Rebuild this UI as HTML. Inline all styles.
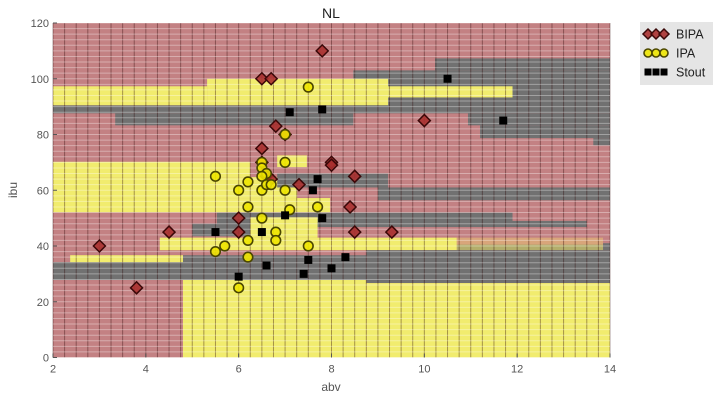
<!DOCTYPE html>
<html><head><meta charset="utf-8"><style>
html,body{margin:0;padding:0;background:#fff;}
svg{display:block;font-family:"Liberation Sans",sans-serif;}
</style></head><body>
<svg id="chart" width="720" height="401" viewBox="0 0 720 401" xmlns="http://www.w3.org/2000/svg">
<g id="regions"></g>
<g id="grid"></g>
<g id="axes"></g>
<g id="points"></g>
<text x="331" y="18" text-anchor="middle" font-size="14" fill="#222">NL</text>
<text x="331" y="391" text-anchor="middle" font-size="12" fill="#555">abv</text>
<text x="17" y="190" text-anchor="middle" font-size="12" fill="#555" transform="rotate(-90 17 190)">ibu</text>
<g id="legend"></g>
</svg>
<script>
const xTicks=[2,4,6,8,10,12,14];
const yTicks=[0,20,40,60,80,100,120];
const bipaAbv=[7.8,6.5,6.7,6.8,7.0,10.0,6.5,6.5,6.6,6.7,8.0,8.0,8.5,7.3,8.4,6.0,6.0,4.5,3.0,8.5,9.3,3.8];
const bipaIbu=[110,100,100,83,80,85,75,70,65,64,70,69,65,62,54,50,45,45,40,45,45,25];
const ipaAbv=[7.5,7.0,7.0,6.5,6.5,6.6,6.5,5.5,6.2,6.0,6.5,7.0,6.6,6.7,6.2,7.1,7.7,6.5,6.8,6.8,6.2,5.7,5.5,6.2,7.5,6.0];
const ipaIbu=[97,80,70,70,68,66,65,65,63,60,60,60,62,62,54,53,54,50,45,42,42,40,38,36,40,25];
const stoutAbv=[7.1,7.8,7.7,7.6,10.5,11.7,7.0,7.8,5.5,6.5,7.5,6.6,8.3,7.4,8.0,6.0];
const stoutIbu=[88,89,64,60,100,85,51,50,45,45,35,33,36,30,32,29];
// decision regions: [abv0, abv1, ibu0, ibu1, class]
const regionList=[
 [2,8.47,87.6,90.5,'G'],[3.34,8.47,83.3,87.6,'G'],[8.47,14,87.6,103,'G'],[10.23,14,103,107.3,'G'],
 [10.94,14,83.3,87.6,'G'],[11.2,14,78.7,83.3,'G'],[13.64,14,76.1,78.7,'G'],
 [2,5.32,90.5,97.3,'Y'],[5.32,9.22,90.5,100,'Y'],[9.22,11.9,93.3,97.3,'Y'],
 [6.83,7.47,68.3,72.5,'Y'],[2,6.25,64.7,70.2,'Y'],[2,7.26,57.2,64.7,'Y'],[2,7.97,52.1,57.2,'Y'],
 [6.83,9.22,61,66,'G'],[9.0,14,56.4,61,'G'],[5.53,11.9,46.8,52,'G'],[11.9,13.5,46.8,49,'G'],[5.0,6.4,43.5,48,'G'],
 [6.25,7.7,43,50.3,'Y'],[4.3,10.7,38.5,43,'Y'],[10.7,13.85,40.5,43,'O'],[10.7,13.85,38.5,40.5,'L'],
 [2.37,4.8,33.2,36.7,'Y'],[2,14,27.8,34.2,'G'],[4.8,8.75,27.8,36.7,'G'],[8.75,14,26.7,38.5,'G'],[13.85,14,38.5,41,'G'],
 [4.8,8.75,0,27.8,'Y'],[8.75,14,0,26.7,'Y']
];
const colors={R:'#c38183',Y:'#f1ec6e',G:'#717171',O:'#d8a57a',L:'#b3ad6b'};
const X0=53,X1=610,Y0=357.5,Y1=23;
const sx=v=>X0+(v-2)/12*(X1-X0);
const sy=v=>Y0-v/120*(Y0-Y1);
const NS='http://www.w3.org/2000/svg';
function mk(tag,attrs,parent){const e=document.createElementNS(NS,tag);for(const k in attrs)e.setAttribute(k,attrs[k]);parent.appendChild(e);return e;}
const reg=document.getElementById('regions');
let bg=mk('rect',{x:X0,y:Y1,width:X1-X0,height:Y0-Y1,fill:colors.R},reg);


regionList.forEach(r=>{
 const e=mk('rect',{x:sx(r[0]),y:sy(r[3]),width:sx(r[1])-sx(r[0]),height:sy(r[2])-sy(r[3]),fill:colors[r[4]]},reg);
 
 
});
const grid=document.getElementById('grid');
for(let v=2;v<=14.001;v+=0.25){
 const l=mk('line',{x1:sx(v),x2:sx(v),y1:Y1,y2:Y0,stroke:'rgba(40,0,0,0.38)','stroke-width':1},grid);
 
 
}
for(let v=0;v<=120;v+=2){
 const l=mk('line',{x1:X0,x2:X1,y1:sy(v),y2:sy(v),stroke:'rgba(255,255,255,0.35)','stroke-width':1},grid);
 
 
}
const ax=document.getElementById('axes');
xTicks.forEach(t=>{
 const tk=mk('line',{x1:sx(t),x2:sx(t),y1:Y0,y2:Y0-4,stroke:'#555'},ax);
 
 
 const tx=mk('text',{x:sx(t),y:Y0+15,'text-anchor':'middle','font-size':11,fill:'#555'},ax);
 tx.textContent=t;
 
 
});
yTicks.forEach(t=>{
 const tk=mk('line',{x1:X0,x2:X0+4,y1:sy(t),y2:sy(t),stroke:'#555'},ax);
 
 
 const tx=mk('text',{x:X0-4,y:sy(t)+4,'text-anchor':'end','font-size':11,fill:'#555'},ax);
 tx.textContent=t;
 
 
});
const pts=document.getElementById('points');
function diamond(cx,cy,p){const s=6;return mk('polygon',{points:`${cx},${cy-s} ${cx+s},${cy} ${cx},${cy+s} ${cx-s},${cy}`,fill:'#a8302f',stroke:'#3a0808','stroke-width':1.5,'fill-opacity':0.9},p);}
function circ(cx,cy,p){return mk('circle',{cx:cx,cy:cy,r:4.8,fill:'#eee600',stroke:'#4a4600','stroke-width':1.6,'fill-opacity':0.9},p);}
function sq(cx,cy,p){return mk('rect',{x:cx-3.5,y:cy-3.5,width:7,height:7,fill:'#000',stroke:'#000','stroke-width':1},p);}
bipaAbv.forEach((a,i)=>{const e=diamond(sx(a),sy(bipaIbu[i]),pts);
 
 });
ipaAbv.forEach((a,i)=>{const e=circ(sx(a),sy(ipaIbu[i]),pts);
 
 });
stoutAbv.forEach((a,i)=>{const e=sq(sx(a),sy(stoutIbu[i]),pts);
 
 });
const lg=document.getElementById('legend');
const lb=mk('rect',{x:640,y:22,width:73,height:63,fill:'#e5e5e5'},lg);


const legendLabels=['BIPA','IPA','Stout'];
const fns=[diamond,circ,sq];
legendLabels.forEach((lab,i)=>{
 const cy=34+i*19;
 const g=mk('g',{},lg);
 
 
 [648,656,664].forEach(cx=>{const m=fns[i](cx,cy,g); if(i===1){m.setAttribute('r',4);} if(i===0){m.setAttribute('points',`${cx},${cy-5} ${cx+5},${cy} ${cx},${cy+5} ${cx-5},${cy}`);} if(i===2){m.setAttribute('x',cx-3);m.setAttribute('y',cy-3);m.setAttribute('width',6);m.setAttribute('height',6);}});
 const t=mk('text',{x:676,y:cy+4.5,'font-size':12.5,fill:'#222'},g);
 t.textContent=lab;
});
</script>
</body></html>
